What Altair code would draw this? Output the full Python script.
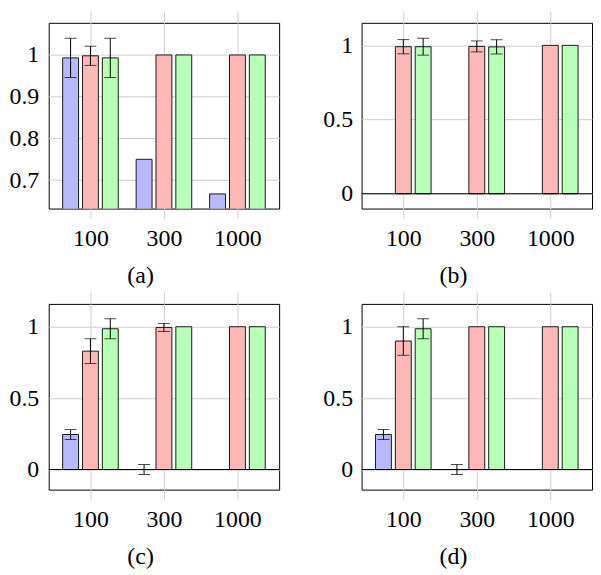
import altair as alt
import pandas as pd

categories = ["100", "300", "1000"]
series = ["blue", "red", "green"]
fills = ["#b8b8ff", "#ffb8b8", "#b8ffb8"]
captions = ["(a)", "(b)", "(c)", "(d)"]

# panel (a)
a_blue = [0.993, 0.75, 0.667]
a_blue_err = [0.047, 0, 0]
a_red = [0.998, 1.0, 1.0]
a_red_err = [0.023, 0, 0]
a_green = [0.993, 1.0, 1.0]
a_green_err = [0.047, 0, 0]

# panel (b)
b_blue = [None, None, None]
b_blue_err = [0, 0, 0]
b_red = [0.991, 0.993, 1.0]
b_red_err = [0.048, 0.037, 0]
b_green = [0.991, 0.99, 1.0]
b_green_err = [0.057, 0.048, 0]

# panel (c)
c_blue = [0.245, 0.0, None]
c_blue_err = [0.035, 0.035, 0]
c_red = [0.829, 0.995, 1.0]
c_red_err = [0.087, 0.028, 0]
c_green = [0.986, 1.0, 1.0]
c_green_err = [0.07, 0, 0]

# panel (d)
d_blue = [0.245, 0.0, None]
d_blue_err = [0.035, 0.035, 0]
d_red = [0.90, 1.0, 1.0]
d_red_err = [0.10, 0, 0]
d_green = [0.986, 1.0, 1.0]
d_green_err = [0.07, 0, 0]

y_domains = [[0.632, 1.077], [-0.10, 1.152], [-0.141, 1.16], [-0.141, 1.16]]
y_ticks = [[0.7, 0.8, 0.9, 1.0], [0, 0.5, 1.0], [0, 0.5, 1.0], [0, 0.5, 1.0]]
zero_line = [False, True, True, True]

FONT = "Liberation Serif"
FS = 24
GRID = "#cfcfcf"
offsets = [-0.27, 0.0, 0.27]
W, H = 232, 187

label_expr = "[" + ",".join("'%s'" % c for c in categories) + "][datum.value]"


def panel(vals, errs, caption, ydom, yticks, zero, ypad):
    rows = []
    for s, off, col in zip(series, offsets, fills):
        for i, c in enumerate(categories):
            v = vals[s][i]
            if v is None:
                continue
            e = errs[s][i]
            rows.append(dict(series=s, cat=c, xpos=i + off, value=v,
                             lo=v - e, hi=v + e, err=e, fill=col))
    df = pd.DataFrame(rows)
    xscale = alt.Scale(domain=[-0.5, 2.5], nice=False, zero=False)
    yscale = alt.Scale(domain=ydom, nice=False, zero=False)

    bottom_axis = alt.Axis(values=[0, 1, 2], labelExpr=label_expr, grid=True,
                           gridColor=GRID, gridWidth=1, tickColor=GRID, tickSize=10,
                           tickWidth=1, domain=False, labelFont=FONT, labelFontSize=FS,
                           labelPadding=8, labelColor="black", title=caption,
                           titleFont=FONT, titleFontSize=FS, titleFontWeight="normal",
                           titleColor="black", titleX=92, titleY=74,
                           titleBaseline="alphabetic", titleAlign="center")
    top_axis = alt.Axis(orient="top", values=[0, 1, 2], labels=False, grid=False,
                        tickColor=GRID, tickSize=12, tickWidth=1, domain=False,
                        title=None, minExtent=0)
    yaxis = alt.Axis(values=yticks, format="~g", grid=True, gridColor=GRID, gridWidth=1,
                     ticks=False, tickSize=0, domain=False, labelFont=FONT,
                     labelFontSize=FS, labelPadding=ypad, labelColor="black", title=None)

    def Y(field):
        return alt.Y(field, scale=yscale, axis=yaxis)

    base = alt.Chart(df)
    top = base.mark_point(opacity=0).encode(
        x=alt.X("xpos:Q", scale=xscale, axis=top_axis),
        y=Y("value:Q"),
    )
    bars = base.mark_bar(width=16, stroke="#1a1a1a", strokeWidth=1, clip=True).encode(
        x=alt.X("xpos:Q", scale=xscale, axis=bottom_axis),
        y=Y("value:Q"),
        y2=alt.datum(0),
        fill=alt.Fill("fill:N", scale=None),
    )
    layers = [top, bars]
    if zero:
        zdf = pd.DataFrame({"z": [0.0]})
        layers.append(alt.Chart(zdf).mark_rule(color="black", strokeWidth=1).encode(
            y=Y("z:Q")))
    errdf = base.transform_filter("datum.err > 0")
    rule = errdf.mark_rule(color="black", strokeWidth=1).encode(
        x=alt.X("xpos:Q", scale=xscale, axis=None),
        y=Y("lo:Q"),
        y2="hi:Q",
    )
    cap_lo = errdf.mark_tick(orient="horizontal", size=12, thickness=1, color="black").encode(
        x=alt.X("xpos:Q", scale=xscale, axis=None),
        y=Y("lo:Q"),
    )
    cap_hi = errdf.mark_tick(orient="horizontal", size=12, thickness=1, color="black").encode(
        x=alt.X("xpos:Q", scale=xscale, axis=None),
        y=Y("hi:Q"),
    )
    layers += [rule, cap_lo, cap_hi]
    return alt.layer(*layers).resolve_axis(x="independent").properties(width=W, height=H)


panels_vals = [
    ({"blue": a_blue, "red": a_red, "green": a_green},
     {"blue": a_blue_err, "red": a_red_err, "green": a_green_err}),
    ({"blue": b_blue, "red": b_red, "green": b_green},
     {"blue": b_blue_err, "red": b_red_err, "green": b_green_err}),
    ({"blue": c_blue, "red": c_red, "green": c_green},
     {"blue": c_blue_err, "red": c_red_err, "green": c_green_err}),
    ({"blue": d_blue, "red": d_red, "green": d_green},
     {"blue": d_blue_err, "red": d_red_err, "green": d_green_err}),
]

charts = []
for k, (v, e) in enumerate(panels_vals):
    charts.append(panel(v, e, captions[k], y_domains[k], y_ticks[k], zero_line[k],
                        10 if k % 2 == 0 else 9))

chart = alt.concat(*charts, columns=2, spacing={"row": 3, "column": 42}).properties(
    padding={"left": 0, "top": 0, "right": 0, "bottom": 0}
).configure_view(stroke="black", strokeWidth=1)

chart.save("out.html", embed_options={"renderer": "svg", "actions": False})
